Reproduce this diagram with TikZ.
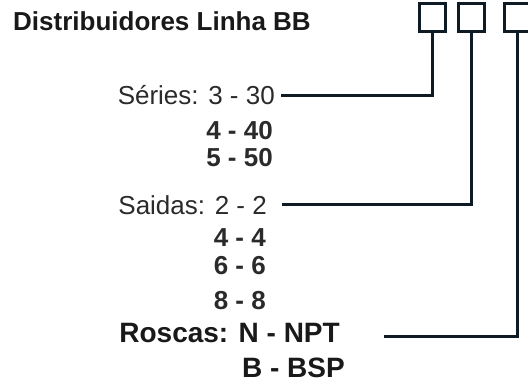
\documentclass[tikz,border=0pt]{standalone}
\usepackage{fontspec}
\setmainfont{Liberation Sans}
\definecolor{ink}{HTML}{0E1B25}
\definecolor{txt}{HTML}{2A2A2A}
\begin{document}
\begin{tikzpicture}[x=1pt,y=-1pt,
  lbl/.style={inner sep=0pt, anchor=base east, font=\fontsize{26}{30}\selectfont, text=txt},
  nlbl/.style={lbl, font=\fontsize{26}{30}\selectfont\bfseries},
  blbl/.style={inner sep=0pt, anchor=base east, font=\fontsize{28}{32}\selectfont\bfseries, text=black!90},
  ttl/.style={inner sep=0pt, anchor=base west, font=\fontsize{26}{30}\selectfont\bfseries, text=black!90},
  codebox/.style={draw=ink, line width=3pt, minimum width=26pt, minimum height=28pt, inner sep=0pt},
  conn/.style={draw=ink, line width=3pt}]
\useasboundingbox (0,0) rectangle (528,384);
% title
\node[ttl] (title) at (13,30) {Distribuidores Linha BB};
% code boxes
\node[codebox] (b1) at (432,17.5) {};
\node[codebox] (b2) at (471,17.5) {};
\node[codebox] (b3) at (517,17.5) {};
% series
\node[lbl] (s1) at (275,104) {Séries: 3 - 30};
\node[nlbl] (s2) at (273,139.5) {4 - 40};
\node[nlbl] (s3) at (273,166.5) {5 - 50};
% outputs
\node[lbl] (a1) at (267,214.5) {Saidas: 2 - 2};
\node[nlbl] (a2) at (266,246.5) {4 - 4};
\node[nlbl] (a3) at (266,274.5) {6 - 6};
\node[nlbl] (a4) at (266,309.5) {8 - 8};
% threads
\node[blbl] (r1) at (340,342.5) {Roscas: N - NPT};
\node[blbl] (r2) at (345,377) {B - BSP};
% connector ends
\coordinate (e1) at (281,95);
\coordinate (e2) at (282,204);
\coordinate (e3) at (384,336);
\draw[conn] (b1.south) |- (e1);
\draw[conn] (b2.south) |- (e2);
\draw[conn] (b3.south) |- (e3);
\end{tikzpicture}
\end{document}
